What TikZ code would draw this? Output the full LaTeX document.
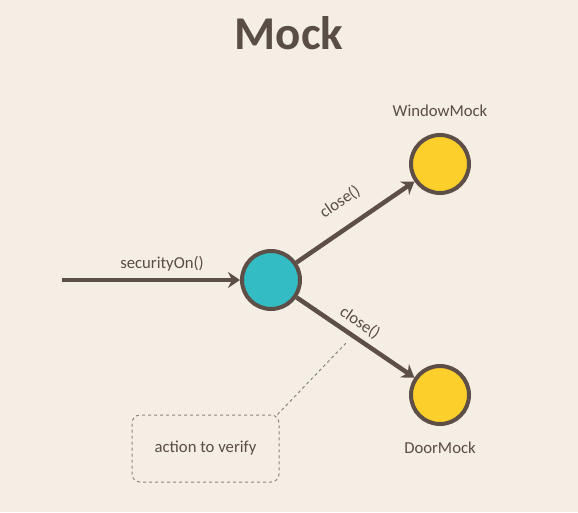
\documentclass[tikz,border=0pt]{standalone}
\usepackage{fontspec}
\setmainfont{Carlito}
\usetikzlibrary{arrows.meta}
\definecolor{bg}{HTML}{F5EEE4}
\definecolor{brn}{HTML}{5E4E48}
\definecolor{teal}{HTML}{33BCC4}
\definecolor{yel}{HTML}{FCCF2B}
\definecolor{txt}{HTML}{5A4C46}
\definecolor{dsh}{HTML}{8A8580}
\tikzset{
  obj/.style={circle, draw=brn, line width=4pt, minimum size=58pt, inner sep=0pt},
  conn/.style={draw=brn, line width=4.5pt, -{Stealth[length=12pt,width=16pt,inset=4pt]}},
  lbl/.style={text=txt, font=\fontsize{16.7}{19}\selectfont, inner sep=0pt},
  note/.style={draw=dsh, dashed, line width=1pt, rounded corners=8pt, minimum width=147pt, minimum height=67pt, text=txt, font=\fontsize{16.7}{19}\selectfont},
}
\begin{document}
\begin{tikzpicture}[x=1pt,y=-1pt]
\fill[bg] (0,0) rectangle (578,512);
\useasboundingbox (0,0) rectangle (578,512);
\node[text=txt, font=\bfseries\fontsize{47}{50}\selectfont] (title) at (289,33) {Mock};
\node[obj, fill=teal] (sec) at (271,280) {};
\node[obj, fill=yel] (win) at (440,164) {};
\node[obj, fill=yel] (door) at (440,395) {};
\coordinate (start) at (62,280);
\draw[conn] (start) -- (sec);
\draw[conn] (sec) -- (win);
\draw[conn] (sec) -- (door);
\node[lbl] (l1) at (162,264) {securityOn()};
\node[lbl, rotate=34.5] (l2) at (340,202) {close()};
\node[lbl, rotate=-34.2] (l3) at (360,323) {close()};
\node[lbl] (wl) at (440,111) {WindowMock};
\node[lbl] (dl) at (440,448) {DoorMock};
\node[note] (act) at (205.5,448.5) {action to verify};
\coordinate (pt) at (346,343);
\draw[draw=dsh, dashed, line width=1pt] (act.north east) ++(-2pt,0) -- (pt);
\end{tikzpicture}
\end{document}
